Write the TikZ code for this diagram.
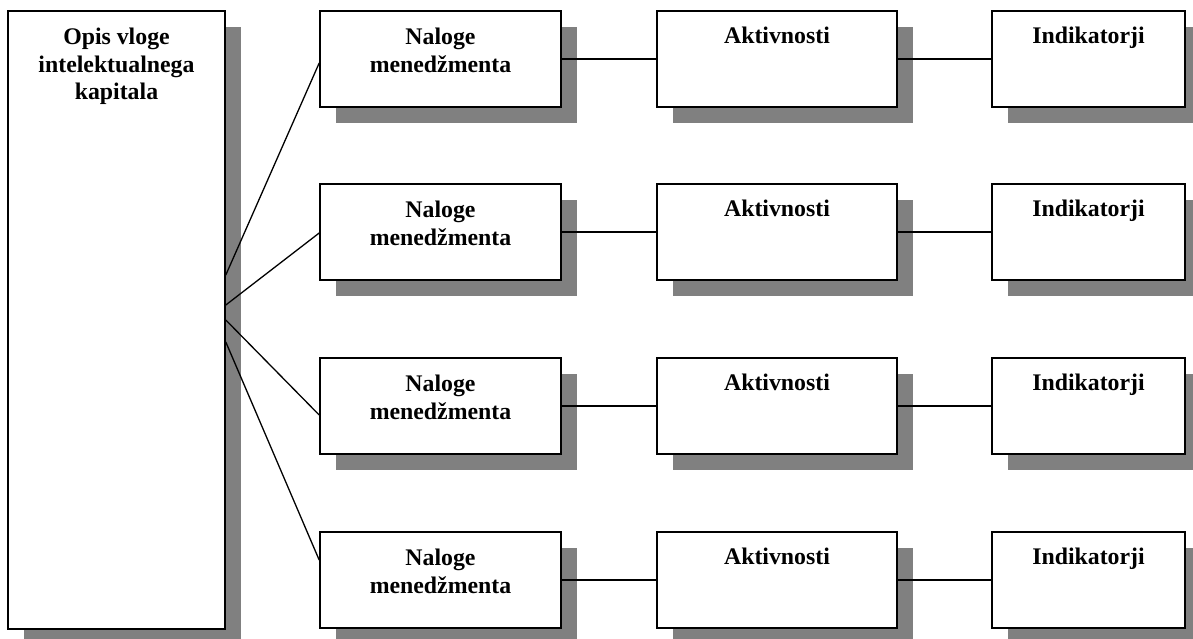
\documentclass[tikz,border=0pt]{standalone}
\usepackage{fontspec}
\setmainfont{Liberation Serif}
\usetikzlibrary{shadows,calc}
\begin{document}
\begin{tikzpicture}[x=1pt,y=-1pt,
  box/.style={draw=black, line width=1.6pt, fill=white, rectangle, inner sep=0pt,
    drop shadow={shadow xshift=16pt, shadow yshift=-16pt, fill=black!50, opacity=1}},
  lbl/.style={anchor=north, inner sep=0pt, align=center,
    font=\fontsize{23.8}{27.5}\selectfont\bfseries},
  link/.style={draw=black, line width=1.3pt}]
\useasboundingbox (0,0) rectangle (1193,639);

% left column box
\node[box, minimum width=217pt, minimum height=618pt] (big) at (116.5,320) {};
\node[lbl] (tbig) at ($(big.north)+(0,18)$) {Opis vloge\\intelektualnega\\kapitala};

% four rows of boxes
\foreach \r/\t in {1/11,2/184,3/358,4/532} {
  \node[box, minimum width=241pt, minimum height=96pt] (n\r) at (440.5,{\t+48}) {};
  \node[box, minimum width=240pt, minimum height=96pt] (a\r) at (777,{\t+48}) {};
  \node[box, minimum width=193pt, minimum height=96pt] (i\r) at (1088.5,{\t+48}) {};
  \node[lbl] (tn\r) at ($(n\r.north)+(0,18)$) {Naloge\\menedžmenta};
  \node[lbl] (ta\r) at ($(a\r.north)+(0,17)$) {Aktivnosti};
  \node[lbl] (ti\r) at ($(i\r.north)+(0,17)$) {Indikatorji};
}

% connectors from the left box
\draw[link] ($(big.east)+(0,-45)$) -- ($(n1.west)+(0,4)$);
\draw[link] ($(big.east)+(0,-15)$) -- ($(n2.west)+(0,1)$);
\draw[link] (big.east) -- ($(n3.west)+(0,9)$);
\draw[link] ($(big.east)+(0,22)$) -- ($(n4.west)+(0,-20)$);

% connectors along each row
\foreach \r in {1,2,3,4} {
  \draw[link] (n\r.east) -- (a\r.west);
  \draw[link] (a\r.east) -- (i\r.west);
}
\end{tikzpicture}
\end{document}
